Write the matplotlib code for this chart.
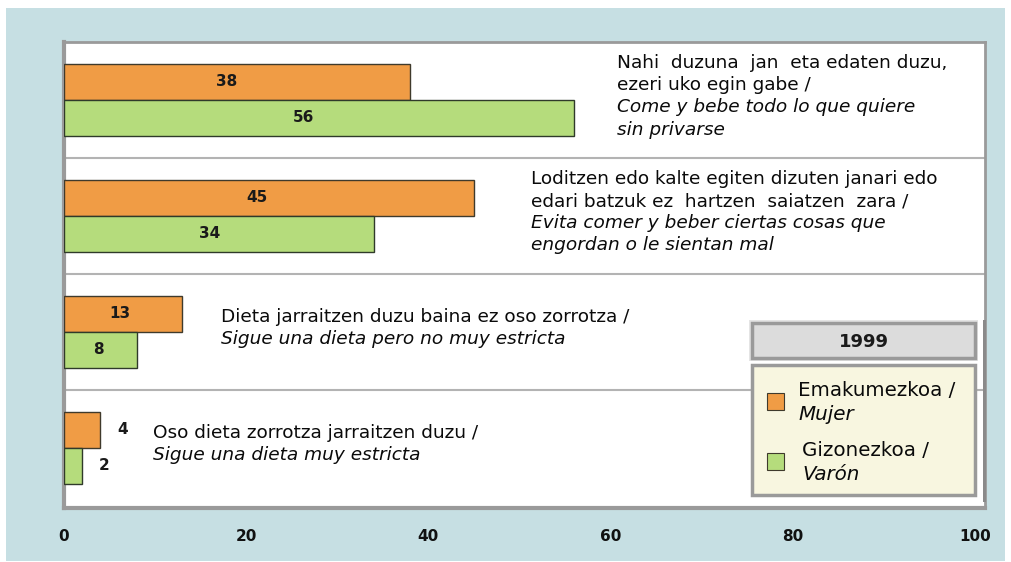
import matplotlib.pyplot as plt
from matplotlib.patches import Rectangle

plt.rcParams['font.family'] = ['DejaVu Sans']

# data
mujer = [38, 45, 13, 4]
varon = [56, 34, 8, 2]
basque = [
    ["Nahi  duzuna  jan  eta edaten duzu,", "ezeri uko egin gabe /"],
    ["Loditzen edo kalte egiten dizuten janari edo", "edari batzuk ez  hartzen  saiatzen  zara /"],
    ["Dieta jarraitzen duzu baina ez oso zorrotza /"],
    ["Oso dieta zorrotza jarraitzen duzu /"],
]
spanish = [
    ["Come y bebe todo lo que quiere", "sin privarse"],
    ["Evita comer y beber ciertas cosas que", "engordan o le sientan mal"],
    ["Sigue una dieta pero no muy estricta"],
    ["Sigue una dieta muy estricta"],
]
text_x = [60.7, 51.3, 17.2, 9.8]
year = "1999"
legend_labels = [("Emakumezkoa /", "Mujer"), ("Gizonezkoa /", "Varón")]
xticks = [0, 20, 40, 60, 80, 100]

orange = '#f09c45'
green = '#b5dc7c'
W, H = 1012, 562

fig = plt.figure(figsize=(W / 100, H / 100), dpi=100, facecolor='white')


def fx(px):
    return px / W


def fy(py):
    return 1 - py / H


# light blue background panel
fig.patches.append(Rectangle((fx(6), fy(561)), fx(999), 553 / H, transform=fig.transFigure,
                             facecolor='#c6dfe3', edgecolor='none', zorder=-10))

ax = fig.add_axes([fx(64), fy(508), fx(985 - 64), (508 - 42) / H])
ax.set_zorder(1)
ax.set_facecolor('white')

h = 0.31
rows = range(len(mujer))
for i in rows:
    ax.barh(i - h / 2, mujer[i], height=h, color=orange, edgecolor='#3f3a2c', linewidth=1, zorder=3)
    ax.barh(i + h / 2, varon[i], height=h, color=green, edgecolor='#2f3a2a', linewidth=1, zorder=3)
    for v, yy in ((mujer[i], i - h / 2), (varon[i], i + h / 2)):
        if v >= 8:
            ax.text(v * 0.47, yy, str(v), ha='center', va='center', fontsize=11,
                    fontweight='bold', color='#1a1a1a', zorder=4)
        else:
            ax.text(v + 2.4, yy, str(v), ha='center', va='center', fontsize=11,
                    fontweight='bold', color='#1a1a1a', zorder=4)

    lines = [(t, 'normal') for t in basque[i]] + [(t, 'italic') for t in spanish[i]]
    n = len(lines)
    step = 0.19
    for k, (t, st) in enumerate(lines):
        ax.text(text_x[i], i - 0.03 + (k - (n - 1) / 2) * step, t, ha='left', va='center',
                fontsize=13.3, style=st, color='#0a0a0a', zorder=4)

for yline in (0.5, 1.5, 2.5):
    ax.axhline(yline, color='#b3b3b3', linewidth=1.5, zorder=1)

ax.set_xlim(0, 101.1)
ax.set_ylim(3.52, -0.5)
ax.set_yticks([])
ax.set_xticks(xticks)
ax.set_xticklabels([str(t) for t in xticks], fontsize=11, fontweight='bold', color='#111111')
ax.tick_params(axis='x', length=0, pad=15)
for side, lw in (('left', 3), ('bottom', 3), ('top', 2), ('right', 2)):
    ax.spines[side].set_color('#9a9a9a')
    ax.spines[side].set_linewidth(lw)

# legend, drawn in figure pixels
lx0, lx1 = 752, 975
fig.patches.append(Rectangle((fx(983), fy(502)), fx(3), 182 / H, transform=fig.transFigure,
                             facecolor='#8a8a8a', edgecolor='none', zorder=5))
fig.patches.append(Rectangle((fx(lx0 - 3), fy(361)), fx(lx1 - lx0 + 6), 41 / H, transform=fig.transFigure,
                             facecolor='#e4e4e4', edgecolor='none', zorder=5))
fig.patches.append(Rectangle((fx(lx0), fy(358)), fx(lx1 - lx0), 35 / H, transform=fig.transFigure,
                             facecolor='#dcdcdc', edgecolor='#9a9a9a', linewidth=2.5, zorder=6))
fig.text(fx((lx0 + lx1) / 2), fy(342), year, ha='center', va='center', fontsize=13,
         fontweight='bold', color='#1a1a1a', zorder=7)
fig.patches.append(Rectangle((fx(lx0), fy(495)), fx(lx1 - lx0), 130 / H, transform=fig.transFigure,
                             facecolor='#f8f6e0', edgecolor='#9a9a9a', linewidth=2.5, zorder=6))
for j, ((eu, es), col, top, tx) in enumerate(zip(legend_labels, (orange, green), (393, 453), (798, 802))):
    fig.patches.append(Rectangle((fx(767), fy(top + 17)), fx(17), 17 / H, transform=fig.transFigure,
                                 facecolor=col, edgecolor='#3f3a2c', linewidth=0.8, zorder=7))
    fig.text(fx(tx), fy(top - 3), eu, ha='left', va='center', fontsize=14.3, color='#0a0a0a', zorder=7)
    fig.text(fx(tx), fy(top + 22), es, ha='left', va='center', fontsize=14.3, style='italic',
             color='#0a0a0a', zorder=7)

fig.savefig('out.png', dpi=100, facecolor='white')
